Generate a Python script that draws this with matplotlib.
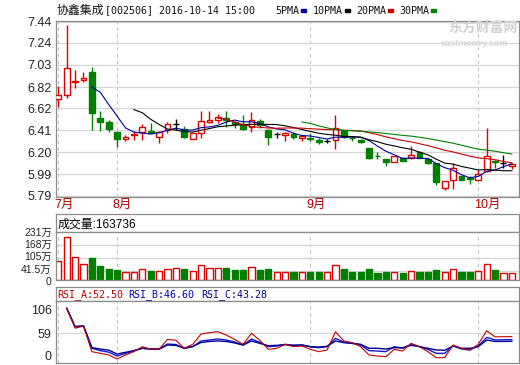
import numpy as np
import pandas as pd
import matplotlib
matplotlib.use('Agg')
import matplotlib.pyplot as plt
from matplotlib.patches import Rectangle
from matplotlib.transforms import ScaledTranslation

# 协鑫集成 daily K-line, 2016-07-21 .. 2016-10-14 (55 trading days)
opens = [6.71, 6.74, 6.87, 6.89, 6.96, 6.53, 6.49, 6.39, 6.33, 6.36,
         6.39, 6.40, 6.35, 6.41, 6.47, 6.42, 6.33, 6.38, 6.49, 6.51,
         6.53, 6.49, 6.47, 6.44, 6.50, 6.41, 6.37, 6.365, 6.37, 6.34,
         6.34, 6.32, 6.31, 6.32, 6.40, 6.34, 6.32, 6.24, 6.17, 6.14,
         6.11, 6.15, 6.145, 6.20, 6.14, 6.10, 5.86, 5.94, 5.975, 5.955,
         5.94, 6.02, 6.12, 6.10, 6.07]
highs = [6.83, 7.41, 6.98, 6.965, 7.01, 6.59, 6.51, 6.40, 6.36, 6.40,
         6.47, 6.48, 6.40, 6.49, 6.52, 6.45, 6.38, 6.59, 6.59, 6.56,
         6.59, 6.50, 6.55, 6.58, 6.52, 6.42, 6.39, 6.39, 6.39, 6.36,
         6.38, 6.34, 6.33, 6.55, 6.41, 6.355, 6.33, 6.245, 6.20, 6.14,
         6.17, 6.155, 6.26, 6.21, 6.15, 6.10, 5.93, 6.10, 5.98, 5.975,
         6.03, 6.43, 6.13, 6.175, 6.10]
lows = [6.63, 6.72, 6.81, 6.87, 6.41, 6.40, 6.39, 6.25, 6.31, 6.32,
        6.32, 6.38, 6.29, 6.38, 6.41, 6.34, 6.33, 6.34, 6.48, 6.48,
        6.44, 6.43, 6.41, 6.39, 6.43, 6.27, 6.34, 6.31, 6.33, 6.31,
        6.31, 6.28, 6.29, 6.23, 6.34, 6.31, 6.285, 6.135, 6.135, 6.07,
        6.105, 6.115, 6.14, 6.145, 6.09, 5.89, 5.84, 5.85, 5.935, 5.895,
        5.935, 6.01, 6.05, 6.05, 6.04]
closes = [6.74, 7.00, 6.88, 6.91, 6.57, 6.49, 6.42, 6.33, 6.35, 6.37,
          6.44, 6.38, 6.39, 6.47, 6.47, 6.35, 6.38, 6.50, 6.51, 6.54,
          6.51, 6.47, 6.42, 6.51, 6.46, 6.35, 6.37, 6.38, 6.345, 6.355,
          6.325, 6.30, 6.31, 6.43, 6.35, 6.335, 6.30, 6.145, 6.165, 6.11,
          6.165, 6.12, 6.175, 6.15, 6.10, 5.92, 5.93, 6.05, 5.94, 5.95,
          5.99, 6.17, 6.11, 6.10, 6.09]
# volume, in 万
volumes = [92, 207, 110, 77, 106, 68, 53, 48, 39, 39,
           52, 44, 44, 52, 56, 53, 44, 71, 60, 56,
           56, 48, 48, 61, 48, 53, 39, 39, 39, 39,
           39, 39, 39, 71, 53, 39, 39, 53, 35, 39,
           39, 35, 44, 39, 39, 48, 39, 52, 39, 39,
           44, 76, 48, 35, 35]
nan = np.nan
rsi_a = [nan, 108, 69, 73, 23, 19.7, 16.5, 8.6, 16.5, 23,
         32.8, 28, 28, 47, 45.5, 29.6, 37.4, 57.6, 60.3, 62,
         55.7, 47, 37.4, 59, 45, 27.6, 29.6, 37.4, 32.8, 34,
         27.6, 23, 26.3, 62, 43.9, 40.6, 32.8, 16.5, 14.5, 13.2,
         27.6, 24.3, 39.3, 32.8, 23, 11.2, 11.2, 36, 29.6, 26.3,
         37.4, 64, 52.0, 52.3, 52.5]
rsi_b = [nan, 108, 72, 73.5, 29.6, 25, 22, 14.5, 19.7, 25,
         29.6, 28.2, 28, 38, 37, 29.6, 33, 43.9, 45.8, 47.8,
         45.8, 42, 36, 47.8, 41, 32.8, 34, 37.4, 35.4, 36,
         32.8, 30.8, 32.8, 49, 41.8, 39.3, 36, 25, 24.3, 23,
         32.8, 29.6, 37.4, 32.8, 27.6, 19.7, 19.7, 34.7, 28.2, 26.3,
         34, 51, 46.0, 46.3, 46.6]
rsi_c = [nan, 108, 72, 73.5, 31, 28, 26, 18.4, 21.7, 25,
         29.6, 28.2, 28, 36, 35.4, 29.6, 33, 41, 43, 44,
         43, 40, 36, 44, 39.3, 34.7, 35.4, 36.7, 35.4, 36,
         32.8, 32, 33.4, 43.9, 40.6, 39.3, 37.4, 29.6, 29.6, 28.2,
         30.8, 30.8, 35.4, 32.8, 29.6, 26.3, 25.7, 34, 29.6, 29.6,
         32.8, 45.8, 43.0, 43.1, 43.28]

month_pos = [0, 7, 30, 50]
month_labels = ['7月', '8月', '9月', '10月']
price_ticks = [5.79, 5.99, 6.20, 6.41, 6.62, 6.82, 7.03, 7.24, 7.44]
vol_ticks = [0, 41.5, 105, 168, 231]
vol_tick_labels = ['0', '41.5万', '105万', '168万', '231万']
rsi_ticks = [0, 59, 106]
ma_periods = [5, 10, 20, 30]
ma_colors = ['#0000a0', '#000000', '#d00000', '#008000']

RED = '#e00000'
GREEN = '#008000'
BORDER = '#8c8c8c'
GRID = '#d6d6d6'
SANS = ['Liberation Sans', 'Noto Sans CJK SC']
MONO = ['DejaVu Sans Mono', 'Noto Sans CJK SC']

W, H = 520, 365
fig = plt.figure(figsize=(5.2, 3.65), dpi=100)


def box(x0, y0, x1, y1):
    # pixel box, origin top-left -> figure fraction rect
    return [x0 / W, 1 - y1 / H, (x1 - x0) / W, (y1 - y0) / H]


def style(ax):
    for s in ax.spines.values():
        s.set_color(BORDER)
        s.set_linewidth(0.9)
    ax.tick_params(length=0, pad=3, labelsize=9, colors='#222222')
    ax.set_xticks([])
    ax.set_xlim(-0.274, 54.85)
    for p in month_pos:
        ax.axvline(p, color='#c4c4c4', lw=0.8, ls=(0, (3, 3)), zorder=0)


x = np.arange(len(closes))
o, h, l, c = map(np.array, (opens, highs, lows, closes))
kind = np.where(c > o, 'up', np.where(c < o, 'down', 'flat'))

# ---- price panel
ax = fig.add_axes(box(56, 20.7, 519, 196.7))
style(ax)
ax.set_ylim(5.779, 7.4495)
ax.set_yticks(price_ticks)
ax.set_yticklabels(['%.2f' % t for t in price_ticks], family=SANS)
for t in price_ticks:
    ax.axhline(t, color=GRID, lw=0.9, zorder=0)

for i in x:
    col = {'up': RED, 'down': GREEN, 'flat': 'black'}[kind[i]]
    ax.vlines(i, l[i], h[i], color=col, lw=1.0, zorder=2)
    if kind[i] == 'flat':
        ax.hlines(o[i], i - 0.36, i + 0.36, color=col, lw=1.0, zorder=3)
    else:
        lo_, hi_ = min(o[i], c[i]), max(o[i], c[i])
        ax.bar(i, hi_ - lo_, bottom=lo_, width=0.7,
               facecolor='white' if kind[i] == 'up' else GREEN,
               edgecolor=col, lw=1.0, zorder=3)

close_s = pd.Series(closes)
for n, col in zip(ma_periods, ma_colors):
    ax.plot(x, close_s.rolling(n).mean(), color=col, lw=0.8, zorder=4)

for p, lab in zip(month_pos, month_labels):
    ax.text(p - 0.5, -0.012, lab, transform=ax.get_xaxis_transform(),
            ha='left', va='top', fontsize=9, color='#b00000', family=SANS)

# watermark
fig.text(483 / W, 1 - 28 / H, '东方财富网', ha='center', va='center', fontsize=10,
         color='#d2d2d2', fontweight='bold', family=['Noto Sans CJK SC'])
fig.text(474 / W, 1 - 43.5 / H, 'eastmoney.com', ha='center', va='center',
         fontsize=6.5, color='#d8d8d8', fontweight='bold', family=SANS)

# title + MA legend
fig.text(56.5 / W, 1 - 10.5 / H, '协鑫集成', ha='left', va='center', fontsize=8.6,
         family=['Noto Sans CJK SC'], color='#111111')
fig.text(105 / W, 1 - 10.5 / H, '[002506] 2016-10-14 15:00', ha='left', va='center',
         fontsize=7.2, family=MONO, color='#111111')
leg_x = [275, 313, 356, 399]
for lx, n, col in zip(leg_x, ma_periods, ma_colors):
    lab = '%dPMA' % n
    fig.text(lx / W, 1 - 10.5 / H, lab, ha='left', va='center', fontsize=7.2,
             family=MONO, color='#111111')
    sx = lx + 6 * len(lab) + 2
    fig.patches.append(Rectangle((sx / W, 1 - 12 / H), 5 / W, 3 / H,
                                 transform=fig.transFigure, color=col))

# ---- volume panel
axh = fig.add_axes(box(56, 214.3, 519, 232.3))
for s in axh.spines.values():
    s.set_color(BORDER)
    s.set_linewidth(0.9)
axh.set_xticks([])
axh.set_yticks([])
axh.text(0.003, 0.45, '成交量:163736', transform=axh.transAxes, ha='left',
         va='center', fontsize=8.6, family=SANS, color='black')

axv = fig.add_axes(box(56, 232.3, 519, 280))
style(axv)
axv.set_ylim(0, 231)
axv.set_yticks(vol_ticks)
axv.set_yticklabels(vol_tick_labels, family=SANS, fontsize=7.5)
# spread the crowded labels a little, as the reference does (pixel nudges)
for lbl, dy in zip(axv.get_yticklabels(), [-1.0, 2.8, 2.0, 1.0, 0.0]):
    lbl.set_transform(lbl.get_transform() + ScaledTranslation(0, dy / 100, fig.dpi_scale_trans))
for t in vol_ticks[1:-1]:
    axv.axhline(t, color=GRID, lw=0.9, zorder=0)
up = kind != 'down'
axv.bar(x[up], np.array(volumes)[up], width=0.75, facecolor='white',
        edgecolor=RED, lw=1.0, zorder=2)
axv.bar(x[~up], np.array(volumes)[~up], width=0.75, facecolor=GREEN,
        edgecolor=GREEN, lw=1.0, zorder=2)

# ---- RSI panel
axrh = fig.add_axes(box(56, 287.3, 519, 301))
for s in axrh.spines.values():
    s.set_color(BORDER)
    s.set_linewidth(0.9)
axrh.set_xticks([])
axrh.set_yticks([])
for px, txt, col in [(57, 'RSI_A:52.50', '#c00000'), (128, 'RSI_B:46.60', '#0000c0'),
                     (201, 'RSI_C:43.28', '#000090')]:
    axrh.text((px - 56) / 463, 0.45, txt, transform=axrh.transAxes, ha='left',
              va='center', fontsize=7.2, family=MONO, color=col)

axr = fig.add_axes(box(56, 301, 519, 363.4))
style(axr)
axr.set_ylim(0, 122.3)
axr.set_yticks(rsi_ticks)
axr.set_yticklabels([str(t) for t in rsi_ticks], family=SANS)
axr.get_yticklabels()[0].set_verticalalignment('bottom')
axr.axhline(59, color=GRID, lw=0.9, zorder=0)
axr.plot(x, rsi_a, color='#c00000', lw=0.8, zorder=3)
axr.plot(x, rsi_b, color='#1515d0', lw=1.0, zorder=2)
axr.plot(x, rsi_c, color='#000090', lw=1.0, zorder=2)

fig.savefig('out.png', dpi=100, facecolor='white')
